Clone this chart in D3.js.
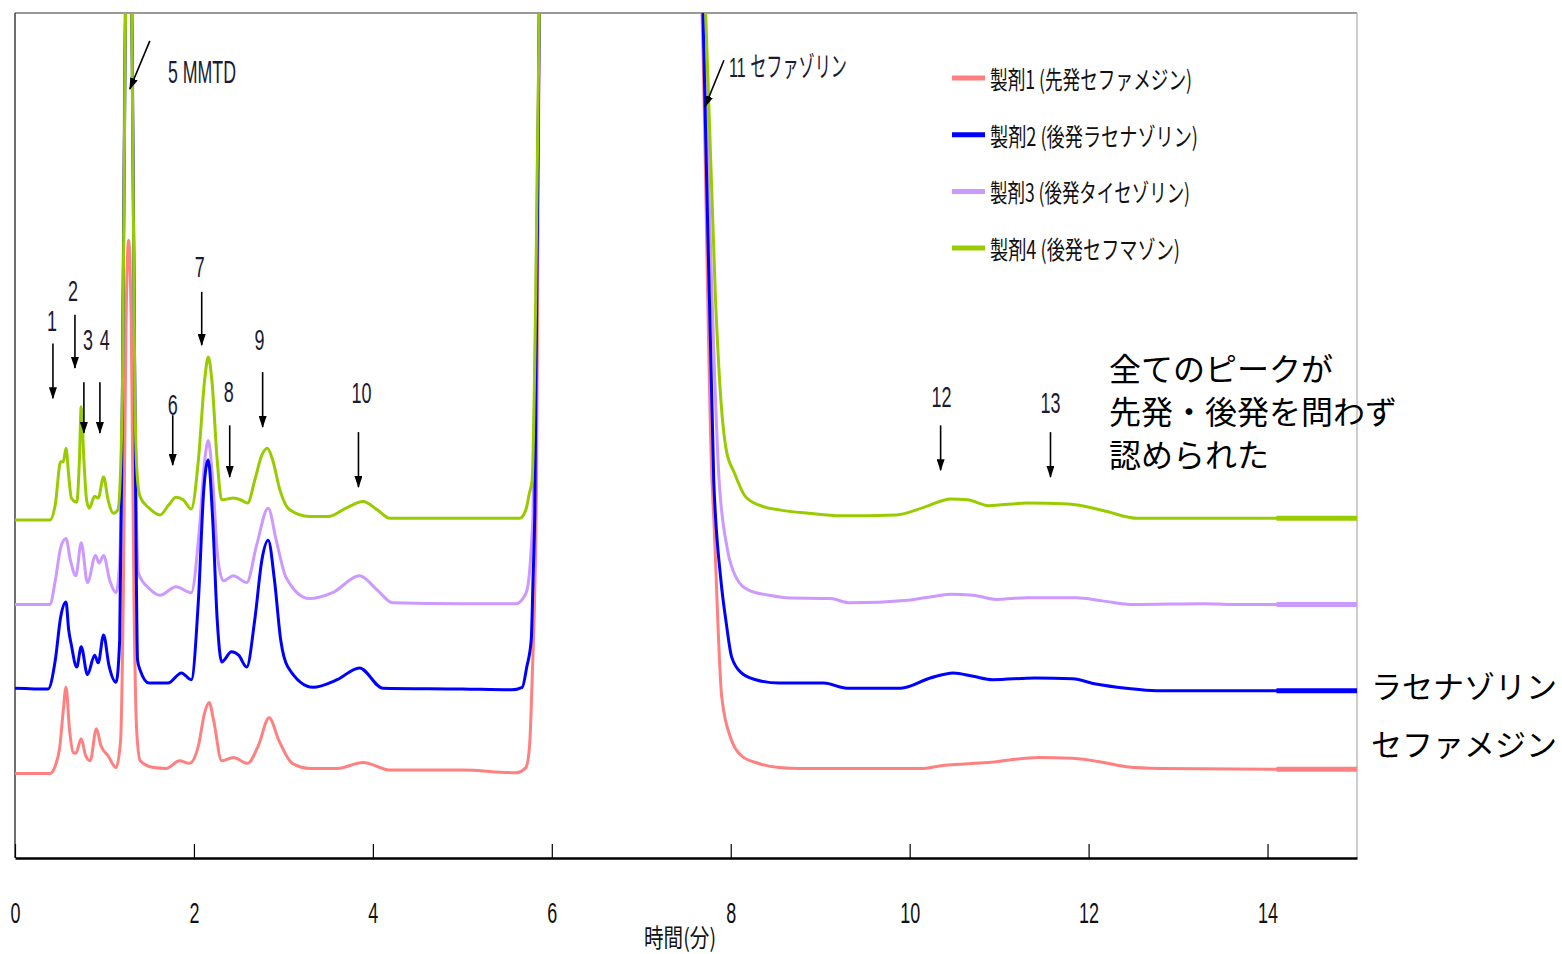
<!DOCTYPE html>
<html>
<head>
<meta charset="utf-8">
<script src="https://cdn.jsdelivr.net/npm/d3@7"></script>
<style>
  body { margin: 0; background: #fff; }
  svg { display: block; }
</style>
</head>
<body>
<div id="chart"></div>
<script>
var W = 1562, H = 954;
var margin = {top: 13, right: 205, bottom: 96, left: 15};

// series (製剤1..4), baseline offsets in signal units
var legendLabels = ["製剤1 (先発セファメジン)", "製剤2 (後発ラセナゾリン)", "製剤3 (後発タイセゾリン)", "製剤4 (後発セフマゾン)"];
var colors = ["#ff8080", "#0000ff", "#cc99ff", "#99cc00"];
var offsets = [10, 20, 30, 40];

// [time (min), signal above own baseline]
var trace1 = [[0,0],[0.39,0],[0.45,0.9],[0.50,3.1],[0.54,7.5],[0.57,10.2],[0.61,5.1],[0.65,2.5],[0.68,2.4],[0.74,4.1],[0.79,2.1],[0.84,1.5],[0.91,5.3],[0.96,3.3],[1.04,2.1],[1.13,0.7],[1.18,3.9],[1.21,20.5],[1.24,52.4],[1.27,63.1],[1.30,52.4],[1.33,20.5],[1.36,5.1],[1.40,1.5],[1.55,0.7],[1.69,0.6],[1.84,1.5],[1.95,1.2],[2.05,3.3],[2.12,7.2],[2.17,8.4],[2.22,6.3],[2.31,1.5],[2.44,1.9],[2.60,1.2],[2.72,3.3],[2.84,6.6],[2.95,3.9],[3.10,1.2],[3.30,0.6],[3.60,0.6],[3.89,1.3],[4.20,0.4],[5.00,0.4],[5.60,0.1],[5.71,0.7],[5.75,3.1],[5.78,11.0],[5.83,34.7],[5.86,89.6],[5.95,110],[7.60,110],[7.68,89.6],[7.79,34.7],[7.81,30.3],[7.90,9.0],[8.01,3.9],[8.12,2.1],[8.28,1.3],[8.54,0.7],[8.78,0.6],[10.16,0.6],[10.33,0.9],[10.88,1.3],[11.44,1.9],[11.82,1.8],[12.17,1.3],[12.42,0.8],[12.80,0.6],[14.1,0.5],[15,0.5]];

var trace2 = [[0,0.1],[0.37,0],[0.45,3.4],[0.51,8.5],[0.57,10.3],[0.60,7.0],[0.63,5.2],[0.69,2.6],[0.74,5.0],[0.81,1.7],[0.89,4.0],[0.93,3.1],[0.99,6.4],[1.05,2.8],[1.13,0.8],[1.17,5.8],[1.20,34.2],[1.23,74.4],[1.27,95],[1.31,74.4],[1.34,34.2],[1.37,3.4],[1.40,2.2],[1.50,0.7],[1.71,0.7],[1.86,1.9],[1.97,1.1],[2.05,10.5],[2.11,23.6],[2.16,27.1],[2.21,20],[2.26,8.2],[2.31,3.2],[2.42,4.4],[2.50,4.0],[2.59,2.6],[2.68,8.2],[2.76,15.3],[2.83,17.6],[2.90,12.9],[2.97,5.8],[3.05,2.6],[3.33,0.2],[3.60,1.1],[3.85,2.5],[4.11,0.1],[5.00,0],[5.55,-0.1],[5.67,0.2],[5.72,2.6],[5.77,5.8],[5.79,12.9],[5.81,20.8],[5.86,80],[5.95,110],[7.60,110],[7.69,80],[7.81,24.7],[7.89,12.9],[7.95,7.8],[8.01,3.8],[8.12,1.9],[8.28,1.1],[8.54,0.7],[9.04,0.7],[9.30,0.1],[9.90,0.1],[10.23,1.3],[10.49,1.9],[10.71,1.5],[10.93,1.1],[11.40,1.3],[11.82,1.2],[12.08,0.6],[12.42,0.1],[12.76,-0.2],[14.1,-0.2],[15,-0.2]];

var trace3 = [[0,0],[0.39,0],[0.45,2.8],[0.51,6.7],[0.57,7.8],[0.62,5.2],[0.68,3.4],[0.74,7.3],[0.81,2.6],[0.90,5.8],[0.94,4.9],[0.99,5.8],[1.06,2.8],[1.13,1.4],[1.17,5.2],[1.20,24.1],[1.23,70],[1.27,90],[1.31,70],[1.34,24.1],[1.38,3.7],[1.50,1.9],[1.62,1.1],[1.80,2.1],[1.97,1.4],[2.06,8.8],[2.12,17.0],[2.16,19.4],[2.21,14.7],[2.27,5.2],[2.33,2.8],[2.44,3.4],[2.59,2.6],[2.70,7.0],[2.83,11.4],[2.92,7.6],[3.03,3.2],[3.29,0.7],[3.55,1.4],[3.85,3.4],[4.05,1.7],[4.22,0.2],[5.00,0.1],[5.60,0.1],[5.71,1.3],[5.75,3.7],[5.77,6.7],[5.79,10.8],[5.86,70],[5.95,110],[7.60,110],[7.70,70],[7.87,14.7],[7.96,6.7],[8.06,3.2],[8.20,1.7],[8.43,1.1],[8.62,0.8],[9.11,0.7],[9.34,0.2],[9.98,0.5],[10.23,0.9],[10.46,1.2],[10.71,1.1],[10.97,0.6],[11.31,0.8],[11.86,0.8],[12.17,0.4],[12.50,0],[13.30,0.1],[13.60,0],[14.1,0],[15,0]];

var trace4 = [[0,0],[0.39,0],[0.45,1.8],[0.51,6.9],[0.54,6.9],[0.57,8.5],[0.60,5.3],[0.63,2.6],[0.69,2.1],[0.72,7.1],[0.74,13.4],[0.77,7.1],[0.80,2.4],[0.83,1.4],[0.89,2.8],[0.93,2.6],[0.99,5.1],[1.04,2.4],[1.10,0.8],[1.15,1.2],[1.20,14.2],[1.23,54.4],[1.27,75],[1.31,54.4],[1.34,14.2],[1.37,4.7],[1.40,2.7],[1.50,1.4],[1.62,0.6],[1.72,1.8],[1.80,2.7],[1.88,2.4],[1.97,1.3],[2.05,7.1],[2.12,16.6],[2.16,19.3],[2.20,16.6],[2.26,7.1],[2.31,2.4],[2.38,2.5],[2.44,2.6],[2.52,2.4],[2.60,2.0],[2.68,4.7],[2.76,7.7],[2.82,8.5],[2.88,7.1],[2.96,3.6],[3.07,1.2],[3.29,0.4],[3.50,0.4],[3.70,1.4],[3.89,2.2],[4.05,1.2],[4.19,0.2],[5.00,0.2],[5.64,0.2],[5.71,1.2],[5.75,3.2],[5.78,4.7],[5.82,26],[5.86,60],[5.95,80],[7.60,80],[7.72,60],[7.83,26],[7.89,14.2],[7.95,8.3],[8.04,5.6],[8.17,2.7],[8.39,1.5],[8.54,1.2],[8.87,0.8],[9.23,0.5],[9.85,0.6],[10.16,1.5],[10.46,2.5],[10.65,2.4],[10.88,1.7],[11.31,2.0],[11.78,1.9],[12.17,1.1],[12.55,0.2],[14.1,0.2],[15,0.2]];

var traces = [trace1, trace2, trace3, trace4];
var drawOrder = [0, 2, 1, 3];
var thickFrom = 14.1;   // recorder trace gets heavier at the end

var xTicks = [0, 2, 4, 6, 8, 10, 12, 14];

// peak labels: time of arrow, arrow top/bottom and label centre in signal units
var peakLabels = ["1", "2", "3", "4", "6", "7", "8", "9", "10", "12", "13"];
var peakArrowT = [0.424, 0.67, 0.77, 0.949, 1.763, 2.087, 2.40, 2.768, 3.839, 10.346, 11.574];
var peakLabelT = [0.413, 0.647, 0.815, 1.004, 1.763, 2.065, 2.388, 2.734, 3.873, 10.357, 11.574];
var peakArrowTop = [60.9, 64.3, 56.3, 56.3, 52.4, 67.0, 51.2, 57.5, 50.4, 51.2, 50.4];
var peakArrowBottom = [54.4, 58.0, 50.3, 50.3, 46.5, 60.7, 45.1, 51.0, 43.9, 45.9, 45.1];
var peakLabelV = [63.7, 67.2, 61.4, 61.4, 53.7, 70.1, 55.3, 61.4, 55.1, 54.7, 54.0];

// named peaks with slanted arrows
var namedPeaks = [
  {text: "5 MMTD", t0: 1.507, v0: 96.7, t1: 1.283, v1: 91.0, lt: 1.71, lv: 91.7, len: 68, size: 31},
  {text: "11 セファゾリン", t0: 7.924, v0: 94.4, t1: 7.712, v1: 88.9, lt: 7.98, lv: 92.4, len: 118, size: 28}
];

var noteLines = ["全てのピークが", "先発・後発を問わず", "認められた"];
var sideLabels = ["ラセナゾリン", "セファメジン"];

var svg = d3.select("#chart").append("svg").attr("width", W).attr("height", H);

var x = d3.scaleLinear().domain([0, 15]).range([margin.left, W - margin.right]);
var y = d3.scaleLinear().domain([0, 100]).range([H - margin.bottom, margin.top]);

var defs = svg.append("defs");
defs.append("clipPath").attr("id", "plotclip")
  .append("rect")
  .attr("x", x(0)).attr("y", y(100))
  .attr("width", x(15) - x(0)).attr("height", y(0) - y(100));

var marker = defs.append("marker")
  .attr("id", "arrowhead")
  .attr("viewBox", "0 0 12 8")
  .attr("refX", 11).attr("refY", 4)
  .attr("markerWidth", 12).attr("markerHeight", 8)
  .attr("markerUnits", "userSpaceOnUse")
  .attr("orient", "auto");
marker.append("path").attr("d", "M0,0 L12,4 L0,8 Z").attr("fill", "#000");

// frame
svg.append("line").attr("x1", x(0)).attr("x2", x(15)).attr("y1", y(100)).attr("y2", y(100))
  .attr("stroke", "#999").attr("stroke-width", 2);
svg.append("line").attr("x1", x(15)).attr("x2", x(15)).attr("y1", y(100)).attr("y2", y(0))
  .attr("stroke", "#aaa").attr("stroke-width", 1.2);
svg.append("line").attr("x1", x(0)).attr("x2", x(0)).attr("y1", y(100)).attr("y2", y(0))
  .attr("stroke", "#222").attr("stroke-width", 1.3);

// traces
var line = d3.line()
  .curve(d3.curveMonotoneX)
  .x(function(d) { return x(d[0]); });

var plot = svg.append("g").attr("clip-path", "url(#plotclip)");
drawOrder.forEach(function(i) {
  var off = offsets[i];
  line.y(function(d) { return y(d[1] + off); });
  plot.append("path")
    .datum(traces[i])
    .attr("fill", "none")
    .attr("stroke", colors[i])
    .attr("stroke-width", 3)
    .attr("stroke-linejoin", "round")
    .attr("d", line);
  plot.append("path")
    .datum(traces[i].filter(function(d) { return d[0] >= thickFrom; }))
    .attr("fill", "none")
    .attr("stroke", colors[i])
    .attr("stroke-width", 5)
    .attr("d", line);
});

// x axis
var axis = svg.append("g")
  .attr("transform", "translate(0," + y(0) + ")")
  .call(d3.axisBottom(x).tickValues(xTicks).tickSizeInner(-14).tickSizeOuter(0).tickPadding(44));
axis.select(".domain").attr("stroke", "#000").attr("stroke-width", 2.5);
axis.selectAll(".tick line").attr("stroke", "#000").attr("stroke-width", 1.2);
axis.selectAll(".tick text")
  .attr("font-family", "'Liberation Sans', Arial, sans-serif")
  .attr("font-size", 29)
  .attr("fill", "#111")
  .attr("textLength", function(d) { return String(d).length * 10; })
  .attr("lengthAdjust", "spacingAndGlyphs");

svg.append("text")
  .attr("x", 680).attr("y", 947)
  .attr("text-anchor", "middle")
  .attr("font-family", "'Noto Sans CJK JP', sans-serif")
  .attr("font-size", 25)
  .attr("fill", "#111")
  .attr("textLength", 72).attr("lengthAdjust", "spacingAndGlyphs")
  .text("時間(分)");

// peak number labels and arrows
var ann = svg.append("g");
peakLabels.forEach(function(lbl, i) {
  ann.append("line")
    .attr("x1", x(peakArrowT[i])).attr("x2", x(peakArrowT[i]))
    .attr("y1", y(peakArrowTop[i])).attr("y2", y(peakArrowBottom[i]))
    .attr("stroke", "#000").attr("stroke-width", 1.6)
    .attr("marker-end", "url(#arrowhead)");
  ann.append("text")
    .attr("x", x(peakLabelT[i])).attr("y", y(peakLabelV[i]) + 11)
    .attr("text-anchor", "middle")
    .attr("font-family", "'Liberation Sans', Arial, sans-serif")
    .attr("font-size", 29)
    .attr("fill", "#1a1a33")
    .attr("textLength", lbl.length * 10).attr("lengthAdjust", "spacingAndGlyphs")
    .text(lbl);
});

namedPeaks.forEach(function(p) {
  ann.append("line")
    .attr("x1", x(p.t0)).attr("y1", y(p.v0))
    .attr("x2", x(p.t1)).attr("y2", y(p.v1))
    .attr("stroke", "#000").attr("stroke-width", 1.6)
    .attr("marker-end", "url(#arrowhead)");
  ann.append("text")
    .attr("x", x(p.lt)).attr("y", y(p.lv))
    .attr("font-family", "'Liberation Sans', 'Noto Sans CJK JP', sans-serif")
    .attr("font-size", p.size)
    .attr("fill", "#1a1a33")
    .attr("textLength", p.len).attr("lengthAdjust", "spacingAndGlyphs")
    .text(p.text);
});

// legend
var legendW = [202, 208, 200, 190];
var legend = svg.append("g").attr("transform", "translate(952,78)");
legendLabels.forEach(function(lbl, i) {
  var g = legend.append("g").attr("transform", "translate(0," + (i * 56.7) + ")");
  g.append("line").attr("x1", 0).attr("x2", 33).attr("y1", 0).attr("y2", 0)
    .attr("stroke", colors[i]).attr("stroke-width", 5);
  g.append("text")
    .attr("x", 38).attr("y", 11)
    .attr("font-family", "'Noto Sans CJK JP', sans-serif")
    .attr("font-size", 25)
    .attr("fill", "#111")
    .attr("textLength", legendW[i]).attr("lengthAdjust", "spacingAndGlyphs")
    .text(lbl);
});

// note text
var note = svg.append("text")
  .attr("font-family", "'Noto Sans CJK JP', sans-serif")
  .attr("font-size", 32)
  .attr("fill", "#000");
noteLines.forEach(function(s, i) {
  note.append("tspan").attr("x", 1109).attr("y", 381 + i * 43).text(s);
});

var sideY = [698, 756];
sideLabels.forEach(function(s, i) {
  svg.append("text")
    .attr("x", 1371).attr("y", sideY[i])
    .attr("font-family", "'Noto Sans CJK JP', sans-serif")
    .attr("font-size", 31)
    .attr("fill", "#000")
    .text(s);
});
</script>
</body>
</html>
